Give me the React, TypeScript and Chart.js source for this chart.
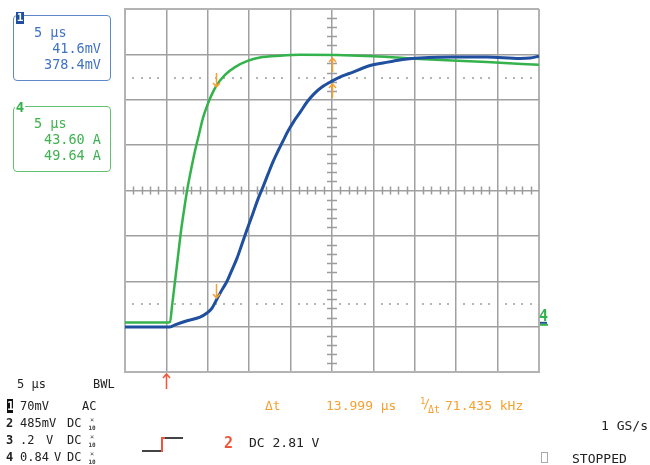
import React, { useEffect, useRef } from "react";
import { Chart, registerables } from "chart.js";

Chart.register(...registerables);

// ---- data (time in µs, value in divisions) ----
const blueTime = [-25, -22, -19.57, -18.96, -17.51, -15.94, -15.1, -14.49, -13.89, -13.29, -12.68, -12.08, -11.47, -10.87, -10.14, -9.54, -8.94, -8.33, -7.73, -7.13, -6.52, -5.92, -5.31, -4.59, -3.86, -3.02, -2.17, -1.21, 0, 1.21, 2.54, 3.74, 4.95, 6.16, 7.37, 9.06, 10.63, 14.61, 18.72, 22.71, 23.91, 25];
const blueValue = [-3.01, -3.01, -3.01, -2.96, -2.87, -2.79, -2.7, -2.59, -2.39, -2.19, -2.0, -1.75, -1.49, -1.18, -0.8, -0.5, -0.19, 0.08, 0.36, 0.63, 0.87, 1.09, 1.31, 1.53, 1.72, 1.95, 2.13, 2.28, 2.41, 2.52, 2.61, 2.7, 2.77, 2.81, 2.85, 2.9, 2.92, 2.94, 2.94, 2.91, 2.92, 2.96];

const greenTime = [-25, -22, -19.8, -19.57, -19.32, -18.96, -18.6, -18.24, -17.87, -17.51, -17.03, -16.55, -16.06, -15.58, -15.1, -14.61, -13.89, -12.92, -11.71, -10.27, -8.7, -6.28, -3.86, 4.95, 10.63, 18.72, 25];
const greenValue = [-2.91, -2.91, -2.91, -2.9, -2.55, -2.0, -1.45, -0.9, -0.43, -0.01, 0.45, 0.87, 1.24, 1.6, 1.86, 2.08, 2.33, 2.55, 2.72, 2.85, 2.93, 2.97, 2.99, 2.96, 2.9, 2.83, 2.77];

const xTickStep = 5; // µs per division
const xRange = [-25, 25];
const yRange = [-4, 4];
const minorX = [-24, -23, -22, -21, -19, -18, -17, -16, -14, -13, -12, -11, -9, -8, -7, -6, -4, -3, -2, -1, 1, 2, 3, 4, 6, 7, 8, 9, 11, 12, 13, 14, 16, 17, 18, 19, 21, 22, 23, 24];
const minorY = [-3.8, -3.6, -3.4, -3.2, -2.8, -2.6, -2.4, -2.2, -1.8, -1.6, -1.4, -1.2, -0.8, -0.6, -0.4, -0.2, 0.2, 0.4, 0.6, 0.8, 1.2, 1.4, 1.6, 1.8, 2.2, 2.4, 2.6, 2.8, 3.2, 3.4, 3.6, 3.8];
const refLevels = [2.48, -2.5];
const cursorTimes = [-14, 0];
const greenCursorLevels = [2.26, 2.94];
const blueCursorLevels = [-2.39, 2.37];
const triggerTime = -20;
const ch4Ground = -2.96;

const BLUE = "#1f4f9e";
const GREEN = "#34b34c";
const ORANGE = "#f5a132";
const RED = "#f0553a";
const MONO = '"DejaVu Sans Mono", "Liberation Mono", monospace';

function drawArrow(ctx: CanvasRenderingContext2D, x: number, tip: number, dir: number, len: number, color: string) {
  // dir = 1 -> points down (tail above), -1 -> points up (tail below)
  ctx.save();
  ctx.strokeStyle = color;
  ctx.lineWidth = 1.5;
  ctx.beginPath();
  ctx.moveTo(x, tip - dir * len);
  ctx.lineTo(x, tip);
  ctx.moveTo(x - 3.5, tip - dir * 4);
  ctx.lineTo(x, tip);
  ctx.lineTo(x + 3.5, tip - dir * 4);
  ctx.stroke();
  ctx.restore();
}

const scopePlugin = {
  id: "scope",
  beforeDatasetsDraw(chart: any) {
    const { ctx } = chart;
    const xs = chart.scales.x;
    const ys = chart.scales.y;
    const cx = xs.getPixelForValue(0);
    const cy = ys.getPixelForValue(0);
    ctx.save();
    ctx.strokeStyle = "#9c9c9c";
    ctx.lineWidth = 1.5;
    ctx.beginPath();
    minorX.forEach((t) => {
      const px = Math.round(xs.getPixelForValue(t)) + 0.5;
      ctx.moveTo(px, cy - 4);
      ctx.lineTo(px, cy + 4);
    });
    minorY.forEach((v) => {
      const py = Math.round(ys.getPixelForValue(v)) + 0.5;
      ctx.moveTo(cx - 5, py);
      ctx.lineTo(cx + 5, py);
    });
    ctx.stroke();
    ctx.fillStyle = "#b5b5b5";
    refLevels.forEach((v) => {
      const py = Math.round(ys.getPixelForValue(v));
      minorX.forEach((t) => {
        const px = Math.round(xs.getPixelForValue(t));
        ctx.fillRect(px - 1, py - 1, 2, 2);
      });
    });
    ctx.restore();
  },
  afterDatasetsDraw(chart: any) {
    const { ctx } = chart;
    const xs = chart.scales.x;
    const ys = chart.scales.y;
    cursorTimes.forEach((t, i) => {
      const px = Math.round(xs.getPixelForValue(t)) + 0.5;
      const dir = i === 0 ? 1 : -1;
      drawArrow(ctx, px, ys.getPixelForValue(greenCursorLevels[i]) - dir, dir, 14, ORANGE);
      drawArrow(ctx, px, ys.getPixelForValue(blueCursorLevels[i]) - dir, dir, 14, ORANGE);
    });
    // trigger position arrow below the grid
    const tx = Math.round(xs.getPixelForValue(triggerTime)) + 0.5;
    const bottom = chart.chartArea.bottom;
    drawArrow(ctx, tx, bottom + 2, -1, 15, RED);
    // channel 4 ground marker at right edge
    const gx = chart.chartArea.right + 1;
    const gy = ys.getPixelForValue(ch4Ground);
    ctx.save();
    ctx.fillStyle = BLUE;
    ctx.fillRect(gx, gy - 3, 7, 2);
    ctx.fillStyle = GREEN;
    ctx.fillRect(gx, gy - 1, 8, 2);
    ctx.font = `bold 15px ${MONO}`;
    ctx.textBaseline = "alphabetic";
    ctx.fillText("4", gx - 1, gy - 4);
    ctx.restore();
  },
};

type TP = { x: number; y: number; children: React.ReactNode; color?: string; size?: number; right?: boolean; bold?: boolean };
function T({ x, y, children, color = "#222", size = 12, right = false, bold = false }: TP) {
  const lh = Math.round(size * 1.2);
  const style: React.CSSProperties = {
    position: "absolute",
    top: y - lh / 2,
    lineHeight: `${lh}px`,
    fontSize: size,
    fontFamily: MONO,
    color,
    whiteSpace: "pre",
    fontWeight: bold ? "bold" : "normal",
  };
  if (right) style.right = 650 - x;
  else style.left = x;
  return <div style={style}>{children}</div>;
}

function X10({ x, y }: { x: number; y: number }) {
  return (
    <div style={{ position: "absolute", left: x, top: y - 7, width: 8, fontFamily: MONO, color: "#444", textAlign: "center" }}>
      <div style={{ fontSize: 7, lineHeight: "7px" }}>×</div>
      <div style={{ fontSize: 6, lineHeight: "7px", fontWeight: "bold" }}>10</div>
    </div>
  );
}

export default function App() {
  const ref = useRef<HTMLCanvasElement | null>(null);
  useEffect(() => {
    if (!ref.current) return;
    const lastX = (xRange[1] - xRange[0]) / xTickStep;
    const lastY = yRange[1] - yRange[0];
    const chart = new Chart(ref.current, {
      type: "line",
      data: {
        datasets: [
          {
            data: blueTime.map((t, i) => ({ x: t, y: blueValue[i] })),
            borderColor: BLUE,
            borderWidth: 3,
            pointRadius: 0,
            cubicInterpolationMode: "monotone",
            fill: false,
          },
          {
            data: greenTime.map((t, i) => ({ x: t, y: greenValue[i] })),
            borderColor: GREEN,
            borderWidth: 2.5,
            pointRadius: 0,
            cubicInterpolationMode: "monotone",
            fill: false,
          },
        ],
      },
      options: {
        animation: false,
        responsive: false,
        maintainAspectRatio: false,
        layout: { padding: { left: 125, top: 9, right: 111, bottom: 93 } },
        plugins: { legend: { display: false }, tooltip: { enabled: false } },
        scales: {
          x: {
            type: "linear",
            min: xRange[0],
            max: xRange[1],
            ticks: { display: false, stepSize: xTickStep },
            grid: {
              drawTicks: false,
              color: (c: any) => (c.index === 0 || c.index === lastX ? "#b3b3b3" : "#a0a0a0"),
              lineWidth: (c: any) => (c.index === 0 || c.index === lastX ? 2 : 1.5),
            },
            border: { display: true, color: "#b3b3b3", width: 2 },
            afterFit: (s: any) => {
              s.height = 0;
            },
          },
          y: {
            type: "linear",
            min: yRange[0],
            max: yRange[1],
            ticks: { display: false, stepSize: 1 },
            grid: {
              drawTicks: false,
              color: (c: any) => (c.index === 0 || c.index === lastY ? "#b3b3b3" : "#a0a0a0"),
              lineWidth: (c: any) => (c.index === 0 || c.index === lastY ? 2 : 1.5),
            },
            border: { display: true, color: "#b3b3b3", width: 2 },
            afterFit: (s: any) => {
              s.width = 0;
            },
          },
        },
      },
      plugins: [scopePlugin],
    } as any);
    return () => chart.destroy();
  }, []);

  const boxText = "#3f72c2";
  const gText = "#3db24f";
  return (
    <div style={{ position: "fixed", left: 0, top: 0, width: 650, height: 465, background: "#fff", overflow: "hidden" }}>
      <canvas ref={ref} width={650} height={465} style={{ position: "absolute", left: 0, top: 0, width: 650, height: 465 }} />

      {/* channel 1 measurement box */}
      <div style={{ position: "absolute", left: 13, top: 15, width: 96, height: 64, border: "1.5px solid #5d88c9", borderRadius: 4 }} />
      <div style={{ position: "absolute", left: 16, top: 12, width: 8, height: 12, background: BLUE, color: "#fff", fontFamily: MONO, fontSize: 11, fontWeight: "bold", lineHeight: "12px", textAlign: "center" }}>1</div>
      <T x={34} y={32} color={boxText} size={13.5}>5 µs</T>
      <T x={101} y={48} color={boxText} size={13.5} right>41.6mV</T>
      <T x={101} y={64} color={boxText} size={13.5} right>378.4mV</T>

      {/* channel 4 measurement box */}
      <div style={{ position: "absolute", left: 13, top: 106, width: 96, height: 64, border: "1.5px solid #62c26f", borderRadius: 4 }} />
      <div style={{ position: "absolute", left: 15, top: 101, width: 10, height: 13, background: "#fff", color: GREEN, fontFamily: MONO, fontSize: 14, fontWeight: "bold", lineHeight: "13px", textAlign: "center" }}>4</div>
      <T x={34} y={122.5} color={gText} size={13.5}>5 µs</T>
      <T x={101} y={139} color={gText} size={13.5} right>43.60 A</T>
      <T x={101} y={155} color={gText} size={13.5} right>49.64 A</T>

      {/* bottom status area */}
      <T x={17} y={384}>5 µs</T>
      <T x={93} y={384}>BWL</T>

      <div style={{ position: "absolute", left: 7, top: 399, width: 6, height: 14, background: "#111", color: "#fff", fontFamily: MONO, fontSize: 12, fontWeight: "bold", lineHeight: "14px", textAlign: "center" }}>1</div>
      <T x={20} y={406}>70mV</T>
      <T x={82} y={406}>AC</T>

      <T x={6} y={423} bold>2</T>
      <T x={20} y={423}>485mV</T>
      <T x={67} y={423}>DC</T>
      <X10 x={88} y={424} />

      <T x={6} y={440} bold>3</T>
      <T x={20} y={440}>.2</T>
      <T x={46} y={440}>V</T>
      <T x={67} y={440}>DC</T>
      <X10 x={88} y={441} />

      <T x={6} y={457} bold>4</T>
      <T x={20} y={457}>0.84</T>
      <T x={54} y={457}>V</T>
      <T x={67} y={457}>DC</T>
      <X10 x={88} y={458} />

      {/* cursor readout */}
      <T x={265} y={406} color={ORANGE} size={13}>Δt</T>
      <T x={326} y={406} color={ORANGE} size={13}>13.999 µs</T>
      <div style={{ position: "absolute", left: 420, top: 397, width: 20, height: 18, fontFamily: MONO, color: ORANGE }}>
        <span style={{ position: "absolute", left: 0, top: 0, fontSize: 9, lineHeight: "9px" }}>1</span>
        <span style={{ position: "absolute", left: 3, top: 1, fontSize: 12, lineHeight: "12px" }}>/</span>
        <span style={{ position: "absolute", left: 8, top: 8, fontSize: 10, lineHeight: "10px" }}>Δt</span>
      </div>
      <T x={445} y={406} color={ORANGE} size={13}>71.435 kHz</T>

      <T x={648} y={426} size={13} right>1 GS/s</T>

      {/* trigger symbol */}
      <div style={{ position: "absolute", left: 142, top: 450, width: 20, height: 1.5, background: "#444" }} />
      <div style={{ position: "absolute", left: 161, top: 437, width: 2, height: 14.5, background: RED }} />
      <div style={{ position: "absolute", left: 161, top: 437, width: 4, height: 1.5, background: RED }} />
      <div style={{ position: "absolute", left: 165, top: 437, width: 18, height: 1.5, background: "#444" }} />
      <T x={224} y={443} color={RED} size={15} bold>2</T>
      <T x={249} y={443} size={13}>DC 2.81 V</T>

      <div style={{ position: "absolute", left: 541, top: 452, width: 5, height: 9, border: "1px solid #aaa" }} />
      <T x={572} y={459} size={13}>STOPPED</T>
    </div>
  );
}
